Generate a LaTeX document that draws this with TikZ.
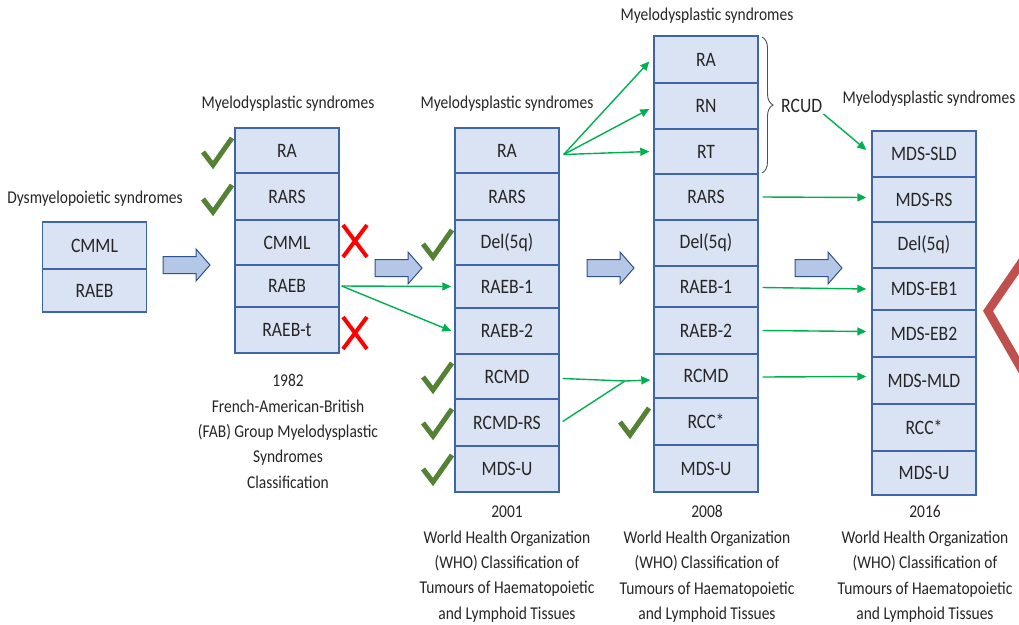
\documentclass[tikz,border=0pt]{standalone}
\usepackage{fontspec}
\setmainfont[FakeStretch=0.86]{Carlito}
\usetikzlibrary{arrows.meta,decorations.pathreplacing,calc}
\definecolor{cellfill}{RGB}{218,227,243}
\definecolor{celldraw}{RGB}{62,100,170}
\definecolor{barfill}{RGB}{180,199,231}
\definecolor{bardraw}{RGB}{47,82,143}
\definecolor{arrgreen}{RGB}{0,176,80}
\definecolor{chkgreen}{RGB}{84,130,53}
\definecolor{chevred}{RGB}{192,80,77}
\definecolor{txt}{RGB}{38,38,38}
\tikzset{
  cell/.style={draw=celldraw, fill=cellfill, line width=1.4pt, minimum width=104pt,
    inner sep=0pt, text=txt, font=\fontsize{20.5}{24}\selectfont},
  lbl/.style={inner sep=0pt, text=txt, font=\fontsize{18}{25.4}\selectfont, align=center},
  garrow/.style={draw=arrgreen, line width=1.4pt, -{Triangle[length=9pt,width=8pt]}},
  gline/.style={draw=arrgreen, line width=1.4pt},
  barrow/.style={draw=bardraw, fill=barfill, line width=1pt, line join=miter},
  chkline/.style={draw=chkgreen, line width=5pt},
  xline/.style={draw=red, line width=4pt},
}
\newcommand\blockarrow[2]{\draw[barrow] (#1,{#2-8.5}) -- ({#1+33},{#2-8.5}) -- ({#1+33},{#2-16}) -- ({#1+47},#2) -- ({#1+33},{#2+16}) -- ({#1+33},{#2+8.5}) -- (#1,{#2+8.5}) -- cycle;}
\newcommand\chk[2]{\draw[chkline] ({#1-10},{#2-13}) -- (#1,#2) -- ({#1+19},{#2-27});}
\newcommand\redx[2]{\draw[xline] ({#1-12},{#2-16}) -- ({#1+12},{#2+16}); \draw[xline] ({#1+12},{#2-16}) -- ({#1-12},{#2+16});}
\begin{document}
\begin{tikzpicture}[x=1pt,y=-1pt]
\useasboundingbox[fill=white] (0,0) rectangle (1019,624);
\begin{scope}
\clip (0,0) rectangle (1019,624);

% Dysmyelopoietic
\node[lbl] (tdys) at (95,199) {Dysmyelopoietic syndromes};
\node[cell, minimum height=47pt] (d-cmml) at (94.5,245.5) {CMML};
\node[cell, minimum height=43pt] (d-raeb) at (94.5,290.5) {RAEB};

% FAB 1982
\node[lbl] (tfab) at (288,104) {Myelodysplastic syndromes};
\node[cell, minimum height=45pt] (f-ra) at (287,150.5) {RA};
\node[cell, minimum height=47pt] (f-rars) at (287,196.5) {RARS};
\node[cell, minimum height=45pt] (f-cmml) at (287,242.5) {CMML};
\node[cell, minimum height=42pt] (f-raeb) at (287,286) {RAEB};
\node[cell, minimum height=46pt] (f-raebt) at (287,330) {RAEB-t};
\node[lbl] (cfab) at (288,431.5) {1982\\French-American-British\\(FAB) Group Myelodysplastic\\Syndromes\\Classification};

% WHO 2001
\node[lbl] (t01) at (507,104) {Myelodysplastic syndromes};
\node[cell, minimum height=45pt] (a-ra) at (507,150.5) {RA};
\node[cell, minimum height=47pt] (a-rars) at (507,196.5) {RARS};
\node[cell, minimum height=45pt] (a-del) at (507,242.5) {Del(5q)};
\node[cell, minimum height=43pt] (a-raeb1) at (507,286.5) {RAEB-1};
\node[cell, minimum height=46pt] (a-raeb2) at (507,331) {RAEB-2};
\node[cell, minimum height=45pt] (a-rcmd) at (507,376.5) {RCMD};
\node[cell, minimum height=47pt] (a-rcmdrs) at (507,422.5) {RCMD-RS};
\node[cell, minimum height=46pt] (a-mdsu) at (507,469) {MDS-U};
\node[lbl] (c01) at (507,564) {2001\\World Health Organization\\(WHO) Classification of\\Tumours of Haematopoietic\\and Lymphoid Tissues};

% WHO 2008
\node[lbl] (t08) at (707,16) {Myelodysplastic syndromes};
\node[cell, minimum height=47pt] (b-ra) at (706,59.5) {RA};
\node[cell, minimum height=46pt] (b-rn) at (706,106) {RN};
\node[cell, minimum height=45pt] (b-rt) at (706,151.5) {RT};
\node[cell, minimum height=46pt] (b-rars) at (706,197) {RARS};
\node[cell, minimum height=46pt] (b-del) at (706,243) {Del(5q)};
\node[cell, minimum height=41pt] (b-raeb1) at (706,286.5) {RAEB-1};
\node[cell, minimum height=47pt] (b-raeb2) at (706,330.5) {RAEB-2};
\node[cell, minimum height=44pt] (b-rcmd) at (706,376) {RCMD};
\node[cell, minimum height=47pt] (b-rcc) at (706,421.5) {RCC*};
\node[cell, minimum height=47pt] (b-mdsu) at (706,468.5) {MDS-U};
\node[lbl] (c08) at (707,564) {2008\\World Health Organization\\(WHO) Classification of\\Tumours of Haematopoietic\\and Lymphoid Tissues};
\draw[draw=txt!80, line width=0.9pt, decorate, decoration={brace, amplitude=11pt}] (762,37) -- (762,173);
\node[inner sep=0pt, text=txt, font=\fontsize{20.5}{24}\selectfont, anchor=west] (rcud) at (781,106) {RCUD};

% WHO 2016
\node[lbl] (t16) at (929,99) {Myelodysplastic syndromes};
\node[cell, minimum height=46pt] (c-sld) at (924,154) {MDS-SLD};
\node[cell, minimum height=45pt] (c-rs) at (924,199.5) {MDS-RS};
\node[cell, minimum height=46pt] (c-del) at (924,245) {Del(5q)};
\node[cell, minimum height=42pt] (c-eb1) at (924,289) {MDS-EB1};
\node[cell, minimum height=47pt] (c-eb2) at (924,333.5) {MDS-EB2};
\node[cell, minimum height=47pt] (c-mld) at (924,380.5) {MDS-MLD};
\node[cell, minimum height=47pt] (c-rcc) at (924,427.5) {RCC*};
\node[cell, minimum height=44pt] (c-mdsu) at (924,473) {MDS-U};
\node[lbl] (c16) at (925,564) {2016\\World Health Organization\\(WHO) Classification of\\Tumours of Haematopoietic\\and Lymphoid Tissues};

% block arrows
\blockarrow{163}{265}
\blockarrow{375}{268}
\blockarrow{587}{268}
\blockarrow{795}{268}

% green connectors
\draw[garrow] ([xshift=2pt]f-raeb.east) -- ([xshift=-3pt]a-raeb1.west);
\draw[garrow] ([xshift=2pt]f-raeb.east) -- ([xshift=-3pt]a-raeb2.west);
\draw[garrow] ([xshift=4pt,yshift=-4pt]a-ra.east) -- ([xshift=-4pt,yshift=-2pt]b-ra.west);
\draw[garrow] ([xshift=4pt,yshift=-4pt]a-ra.east) -- ([xshift=-4pt,yshift=-3pt]b-rn.west);
\draw[garrow] ([xshift=4pt,yshift=-4pt]a-ra.east) -- ([xshift=-4pt]b-rt.west);
\coordinate (junc) at (625,381);
\draw[gline] ([xshift=3pt,yshift=-2pt]a-rcmd.east) -- (junc);
\draw[gline] ([xshift=3pt,yshift=1pt]a-rcmdrs.east) -- (junc);
\draw[garrow] (junc) -- ([xshift=-3pt,yshift=-4pt]b-rcmd.west);
\draw[garrow] ([xshift=1pt,yshift=-1pt]rcud.south east) -- ([xshift=-5pt,yshift=4pt]c-sld.west);
\draw[garrow] ([xshift=4pt]b-rars.east) -- ([xshift=-5pt,yshift=2pt]c-rs.west);
\draw[garrow] ([xshift=4pt,yshift=-1pt]b-raeb1.east) -- ([xshift=-5pt]c-eb1.west);
\draw[garrow] ([xshift=4pt]b-raeb2.east) -- ([xshift=-5pt,yshift=2pt]c-eb2.west);
\draw[garrow] ([xshift=4pt,yshift=-1pt]b-rcmd.east) -- ([xshift=-5pt,yshift=4pt]c-mld.west);

% check marks
\chk{213}{165}
\chk{213}{212}
\chk{433}{257}
\chk{433}{390}
\chk{433}{436}
\chk{433}{482}
\chk{630}{435}

% red crosses
\redx{355}{241}
\redx{355}{333}

% red chevron at right edge
\draw[draw=chevred, line width=8.5pt, line join=miter] (1030,250) -- (988,311) -- (1030,384);
\end{scope}
\end{tikzpicture}
\end{document}
